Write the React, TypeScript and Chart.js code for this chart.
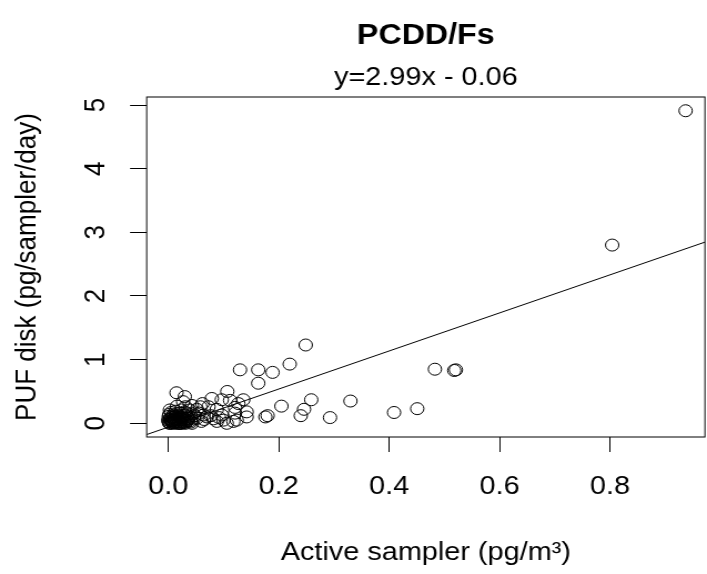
import { useEffect, useRef } from "react";
import { Chart, registerables } from "chart.js";

Chart.register(...registerables);

// ---------- data ----------
const ACTIVE_SAMPLER: number[] = [
  0.937, 0.804, 0.483, 0.518, 0.521, 0.451, 0.409, 0.33, 0.293, 0.259,
  0.249, 0.246, 0.24, 0.22, 0.205, 0.189, 0.163, 0.163, 0.13, 0.18,
  0.176, 0.142, 0.142, 0.136, 0.127, 0.121, 0.121, 0.124, 0.118, 0.107,
  0.112, 0.097, 0.097, 0.1, 0.106, 0.088, 0.088, 0.079, 0.073, 0.077,
  0.064, 0.058, 0.052, 0.052, 0.045, 0.039, 0.03, 0.027, 0.015, 0.003,
  0.005, 0.01, 0.0, 0.002, 0.006, 0.012, 0.015, 0.018, 0.02, 0.022,
  0.025, 0.028, 0.03, 0.032, 0.035, 0.038, 0.04, 0.043, 0.046, 0.048,
  0.001, 0.004, 0.008, 0.011, 0.014, 0.017, 0.019, 0.023, 0.026, 0.029,
  0.033, 0.036, 0.009, 0.013, 0.021, 0.024, 0.031, 0.06, 0.065, 0.07,
  0.056, 0.082, 0.092, 0.016, 0.043, 0.062,
  0.001, 0.003, 0.004, 0.006, 0.007, 0.009, 0.01, 0.012, 0.013, 0.015,
  0.016, 0.018, 0.02, 0.021, 0.023, 0.025, 0.027, 0.029, 0.031, 0.034,
  0.037, 0.041, 0.002, 0.005, 0.008, 0.011, 0.014, 0.019, 0.024, 0.028,
];
const PUF_DISK: number[] = [
  4.91, 2.8, 0.85, 0.83, 0.84, 0.23, 0.17, 0.35, 0.09, 0.37,
  1.23, 0.22, 0.12, 0.93, 0.27, 0.8, 0.84, 0.63, 0.84, 0.12,
  0.1, 0.1, 0.18, 0.37, 0.31, 0.25, 0.16, 0.05, 0.03, 0.5,
  0.36, 0.37, 0.13, 0.05, 0.0, 0.22, 0.03, 0.39, 0.26, 0.12,
  0.13, 0.26, 0.22, 0.08, 0.15, 0.21, 0.42, 0.34, 0.48, 0.21,
  0.17, 0.1, 0.05, 0.0, 0.02, 0.06, 0.15, 0.03, 0.09, 0.0,
  0.12, 0.05, 0.18, 0.02, 0.08, 0.11, 0.04, 0.0, 0.07, 0.12,
  0.11, 0.07, 0.04, 0.01, 0.08, 0.12, 0.06, 0.03, 0.09, 0.13,
  0.05, 0.15, 0.13, 0.19, 0.16, 0.21, 0.26, 0.03, 0.06, 0.1,
  0.16, 0.07, 0.09, 0.27, 0.28, 0.31,
  0.02, 0.06, 0.0, 0.04, 0.09, 0.01, 0.07, 0.03, 0.11, 0.0,
  0.05, 0.08, 0.02, 0.1, 0.0, 0.06, 0.02, 0.08, 0.0, 0.04,
  0.07, 0.02, 0.14, 0.1, 0.0, 0.05, 0.02, 0.0, 0.06, 0.01,
];
const FIT_SLOPE = 2.99;
const FIT_INTERCEPT = -0.06;

const X_TICKS: number[] = [0, 0.2, 0.4, 0.6, 0.8];
const Y_TICKS: number[] = [0, 1, 2, 3, 4, 5];
const X_LIMITS: number[] = [-0.039, 0.972];
const Y_LIMITS: number[] = [-0.215, 5.126];

const TITLE = "PCDD/Fs";
const SUBTITLE = "y=2.99x - 0.06";
const X_TITLE = "Active sampler (pg/m³)";
const Y_TITLE = "PUF disk (pg/sampler/day)";

// ---------- layout ----------
const W = 707;
const H = 574;
const STRETCH = 1.11;
const IW = Math.round(W / STRETCH);
const FONT = '"Liberation Sans", Arial, Helvetica, sans-serif';

const PLOT_LEFT = 146.7 / STRETCH;
const PLOT_RIGHT = 705 / STRETCH;
const PLOT_TOP = 97;
const PLOT_BOTTOM = 437;

const framePlugin = {
  id: "rframe",
  afterDraw(chart: any) {
    const { ctx, chartArea: a } = chart;
    ctx.save();
    ctx.strokeStyle = "#000";
    ctx.lineWidth = 1;
    ctx.strokeRect(a.left, a.top, a.right - a.left, a.bottom - a.top);
    ctx.fillStyle = "#000";
    ctx.textAlign = "center";
    ctx.textBaseline = "alphabetic";
    const cx = (a.left + a.right) / 2;
    ctx.font = `bold 29px ${FONT}`;
    ctx.fillText(TITLE, cx, 43.5);
    ctx.font = `26px ${FONT}`;
    ctx.fillText(SUBTITLE, cx, 85);
    ctx.fillText(X_TITLE, cx, 559.5);
    ctx.translate(32.3, (a.top + a.bottom) / 2);
    ctx.rotate(-Math.PI / 2);
    ctx.fillText(Y_TITLE, 0, 0);
    ctx.restore();
  },
};

export default function App() {
  const ref = useRef<HTMLCanvasElement>(null);

  useEffect(() => {
    document.body.style.margin = "0";
    document.body.style.background = "#fff";
    const canvas = ref.current!;
    Chart.defaults.font.family = FONT;

    const points = ACTIVE_SAMPLER.map((x, i) => ({ x, y: PUF_DISK[i] }));
    const fitLine = X_LIMITS.map((x) => ({ x, y: FIT_SLOPE * x + FIT_INTERCEPT }));

    const gridOpts = {
      display: true,
      drawOnChartArea: false,
      drawTicks: true,
      tickLength: 15,
      color: "#000",
      lineWidth: 1,
    };

    const chart = new Chart(canvas, {
      type: "scatter",
      data: {
        datasets: [
          {
            type: "scatter",
            data: points,
            pointStyle: "circle",
            pointRadius: 6,
            pointHoverRadius: 6,
            borderColor: "#000",
            backgroundColor: "rgba(0,0,0,0)",
            borderWidth: 1,
          } as any,
          {
            type: "line",
            data: fitLine,
            borderColor: "#000",
            borderWidth: 1,
            pointRadius: 0,
            fill: false,
            tension: 0,
          } as any,
        ],
      },
      options: {
        responsive: false,
        animation: false,
        events: [],
        devicePixelRatio: 1,
        layout: {
          autoPadding: false,
          padding: { left: 0, right: IW - PLOT_RIGHT, top: PLOT_TOP, bottom: 0 },
        },
        plugins: {
          legend: { display: false },
          tooltip: { enabled: false },
          title: { display: false },
        },
        scales: {
          x: {
            type: "linear",
            min: X_LIMITS[0],
            max: X_LIMITS[1],
            afterBuildTicks: (s: any) => {
              s.ticks = X_TICKS.map((v) => ({ value: v }));
            },
            afterFit: (s: any) => {
              s.height = H - PLOT_BOTTOM;
            },
            grid: gridOpts,
            border: { display: false },
            ticks: {
              color: "#000",
              font: { family: FONT, size: 26 },
              padding: 19,
              minRotation: 0,
              maxRotation: 0,
              autoSkip: false,
              callback: (v: any) => Number(v).toFixed(1),
            },
          },
          y: {
            type: "linear",
            min: Y_LIMITS[0],
            max: Y_LIMITS[1],
            afterBuildTicks: (s: any) => {
              s.ticks = Y_TICKS.map((v) => ({ value: v }));
            },
            afterFit: (s: any) => {
              s.width = PLOT_LEFT;
            },
            grid: gridOpts,
            border: { display: false },
            ticks: {
              color: "#000",
              font: { family: FONT, size: 26 },
              padding: 23,
              minRotation: 90,
              maxRotation: 90,
              crossAlign: "center",
              autoSkip: false,
              callback: (v: any) => String(Number(v)),
            },
          },
        },
      } as any,
      plugins: [framePlugin],
    });

    return () => chart.destroy();
  }, []);

  return (
    <div style={{ width: W, height: H, background: "#fff" }}>
      <canvas
        ref={ref}
        width={IW}
        height={H}
        style={{ width: `${W}px`, height: `${H}px`, display: "block" }}
      />
    </div>
  );
}
